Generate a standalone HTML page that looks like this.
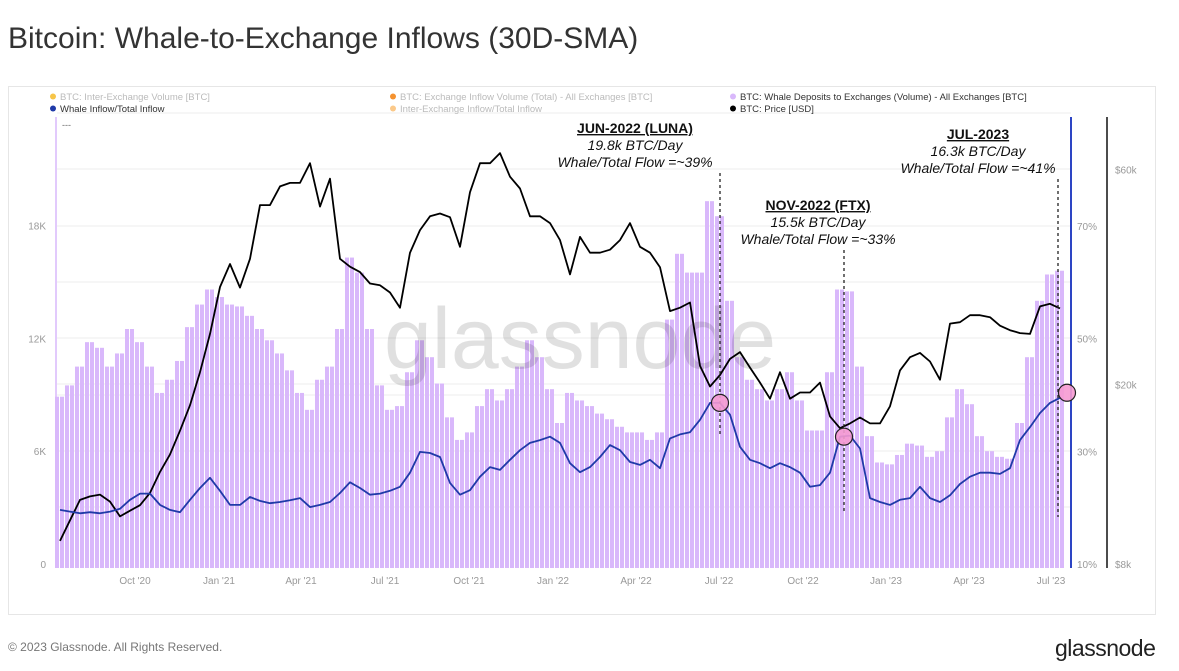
<!DOCTYPE html>
<html><head><meta charset="utf-8"><style>
body{margin:0;width:1179px;height:671px;background:#fff;font-family:"Liberation Sans",sans-serif;overflow:hidden;position:relative}
.t{position:absolute;white-space:nowrap}
</style></head><body>
<div class="t" style="left:8px;top:22px;font-size:30px;color:#333">Bitcoin: Whale-to-Exchange Inflows (30D-SMA)</div>
<div style="position:absolute;left:8px;top:86px;width:1146px;height:527px;border:1px solid #e6e6e6"></div>
<div class="t" style="left:8px;top:640px;font-size:12px;color:#777">© 2023 Glassnode. All Rights Reserved.</div>
<div class="t" style="left:1055px;top:635px;font-size:23px;color:#222;letter-spacing:-0.5px">glassnode</div>
<svg id="c" width="1179" height="671" style="position:absolute;left:0;top:0"></svg>
<script>
const volK=[8.9,9.5,10.5,11.8,11.5,10.5,11.2,12.5,11.8,10.5,9.1,9.8,10.8,12.6,13.8,14.6,14.2,13.8,13.7,13.2,12.5,11.9,11.2,10.3,9.1,8.2,9.8,10.5,12.5,16.3,15.5,12.5,9.5,8.2,8.4,10.2,11.9,11,9.6,7.8,6.6,7,8.4,9.3,8.7,9.3,10.5,11.9,11,9.3,7.5,9.1,8.7,8.4,8,7.7,7.3,7,7,6.6,7,13,16.5,15.5,15.5,19.3,18.5,14,11,9.8,9.3,8.7,9.3,10.2,8.7,7.1,7.1,10.2,14.6,14.5,10.5,6.8,5.4,5.3,5.8,6.4,6.3,5.7,6,7.8,9.3,8.5,6.8,6,5.7,5.6,7.5,11,14,15.4,15.6];
const ratioPct=[19.6,19.3,19,19.2,19,19.3,19.8,21.4,22.5,22.5,20.5,19.6,19.2,21.4,23.5,25.3,23,20.5,20.5,21.9,21.2,20.8,21,21.3,21.7,20.1,20.5,21,22.6,24.5,23.5,22.3,22.5,23,23.7,26.2,29.9,29.7,29,24.4,22.3,23.1,25.5,27.2,26.7,28.5,30.2,31.5,32,32.6,31.5,27.9,26.3,27.2,29,31.1,30.2,28.1,27.6,28.5,27,32.3,33,33.4,35.6,38.6,38.6,36.5,30.8,28.5,27.9,27,27.9,27.2,26.2,23.7,24,26.2,32.6,32.8,30.5,21.7,21,20.5,21.4,21.7,23.7,21.7,21,22.2,24.2,25.5,26.2,26.2,26,27,32,34.3,36.8,38.6,39.5];
const priceK=[9.0,10.0,11.1,11.3,11.4,11,10.2,10.5,10.8,11.5,12.8,14,15.8,18,21.3,25.9,32.9,37,32.8,38,50,50,55,56,56,61.9,49.6,57.2,38,36.5,35.5,33.5,33.2,32,29.6,39.2,44,47.2,47.9,47,40.4,53.4,61.9,61.9,65.2,57.8,54.4,47.2,47.2,45.6,41.8,35.1,42.5,39.2,39.2,39.8,41.8,45.6,40.4,39.2,36.4,29.1,29.6,30.4,22,19.8,21,22.8,23.6,21.8,20.2,18.6,21.3,18.6,19.2,19.2,20.2,17,16,16.4,16.9,16.4,16.4,17.9,21.5,23,23.5,22.5,20.5,27.3,27.5,28.5,28.5,28.2,27,26.4,26,25.9,29.8,30.2,29.5];
const xTicks=["Oct '20","Jan '21","Apr '21","Jul '21","Oct '21","Jan '22","Apr '22","Jul '22","Oct '22","Jan '23","Apr '23","Jul '23"];
const xTickIdx=[7.5,15.9,24.1,32.5,40.9,49.3,57.6,65.9,74.3,82.6,90.9,99.1];
const leftTicks=[0,6,12,18];
const pctTicks=[10,30,50,70];
const priceTicks=[8,20,60];
const events=[{i:66,r:38.6,lbl:"JUN-2022 (LUNA)",a:"19.8k BTC/Day",b:"Whale/Total Flow =~39%"},{i:78.4,r:32.6,lbl:"NOV-2022 (FTX)",a:"15.5k BTC/Day",b:"Whale/Total Flow =~33%"},{i:100.7,r:40.4,lbl:"JUL-2023",a:"16.3k BTC/Day",b:"Whale/Total Flow =~41%"}];
const X=i=>60+i*10;
const yVol=v=>564-v*18.8;
const yPct=p=>564-(p-10)*5.633;
const yPrice=k=>564-451*Math.log10(k/8);
const svg=document.getElementById('c');const NS='http://www.w3.org/2000/svg';
function mk(t,a,p){const e=document.createElementNS(NS,t);for(const k in a)e.setAttribute(k,a[k]);(p||svg).appendChild(e);return e;}
[113,169,226,282,338,384,395,451,507].forEach(y=>{const g=mk('line',{x1:57,x2:1071,y1:y,y2:y,stroke:'#eeeeee','stroke-width':1});});
volK.forEach((v,i)=>{[-5,0].forEach(o=>{const r=mk('rect',{x:X(i)+o,y:yVol(v),width:4,height:564-yVol(v)+4,fill:'#d9b8fb'});});});
const wm=mk('text',{x:580,y:368,'text-anchor':'middle','font-size':86,fill:'#000','fill-opacity':0.12,'font-family':'Liberation Sans, sans-serif'});wm.textContent='glassnode';


let l=mk('line',{x1:56,x2:56,y1:117,y2:568,stroke:'#d9b8fb','stroke-width':1.5});
l=mk('line',{x1:1071,x2:1071,y1:117,y2:568,stroke:'#2d45c4','stroke-width':2});
l=mk('line',{x1:1107,x2:1107,y1:117,y2:568,stroke:'#111','stroke-width':1.5});
const pp=priceK.map((v,i)=>X(i)+','+yPrice(v).toFixed(1)).join(' ');
const pl=mk('polyline',{points:pp,fill:'none',stroke:'#000','stroke-width':1.8,'stroke-linejoin':'round'});


const rp=ratioPct.map((v,i)=>X(i)+','+yPct(v).toFixed(1)).join(' ');
const rl=mk('polyline',{points:rp,fill:'none',stroke:'#1f3aa8','stroke-width':1.8,'stroke-linejoin':'round'});


events.forEach((e,k)=>{const x=X(e.i),yc=yPct(e.r);
 const ty=[133,210,139][k],cx=[635,818,978][k];
 const lx=[720,844,1058][k];
 const dl=mk('line',{x1:lx,x2:lx,y1:ty+40,y2:[437,513,517][k],stroke:'#222','stroke-width':1.3,'stroke-dasharray':'3,3'});
 
 const c=mk('circle',{cx:x,cy:yc,r:8.5,fill:'#f59ad1','fill-opacity':0.9,stroke:'#222','stroke-width':1.2});
 
 const t1=mk('text',{x:cx,y:ty,'text-anchor':'middle','font-size':14,'font-weight':'bold',fill:'#111','text-decoration':'underline','font-family':'Liberation Sans, sans-serif'});t1.textContent=e.lbl;
 
 const t2=mk('text',{x:cx,y:ty+17,'text-anchor':'middle','font-size':14,'font-style':'italic',fill:'#111','font-family':'Liberation Sans, sans-serif'});t2.textContent=e.a;
 
 const t3=mk('text',{x:cx,y:ty+34,'text-anchor':'middle','font-size':14,'font-style':'italic',fill:'#111','font-family':'Liberation Sans, sans-serif'});t3.textContent=e.b;
 
});
function lab(x,y,s,anchor,name){const t=mk('text',{x:x,y:y,'text-anchor':anchor,'font-size':10,fill:'#999','font-family':'Liberation Sans, sans-serif'});t.textContent=s;}
leftTicks.forEach(v=>lab(46,yVol(v)+4,v?v+'K':'0','end','left-tick'));
pctTicks.forEach(v=>lab(1077,yPct(v)+4,v+'%','start','pct-tick'));
priceTicks.forEach(v=>lab(1115,yPrice(v)+4,'$'+v+'k','start','price-tick'));
xTicks.forEach((s,i)=>lab(X(xTickIdx[i]),584,s,'middle','x-tick'));
const leg=[[50,100,'#f7c548','BTC: Inter-Exchange Volume [BTC]','#bbb'],[390,100,'#f5922f','BTC: Exchange Inflow Volume (Total) - All Exchanges [BTC]','#bbb'],[730,100,'#d9b8fb','BTC: Whale Deposits to Exchanges (Volume) - All Exchanges [BTC]','#333'],[50,112,'#1f3aa8','Whale Inflow/Total Inflow','#333'],[390,112,'#fbc98a','Inter-Exchange Inflow/Total Inflow','#bbb'],[730,112,'#000','BTC: Price [USD]','#333']];
leg.forEach(d=>{const c=mk('circle',{cx:d[0]+3,cy:d[1]-3.5,r:3,fill:d[2]});
 const t=mk('text',{x:d[0]+10,y:d[1],'font-size':9.5,fill:d[4],'font-family':'Liberation Sans, sans-serif'});t.textContent=d[3];});
const dd=mk('text',{x:62,y:128,'font-size':9,fill:'#666'});dd.textContent='---';


</script>
</body></html>
